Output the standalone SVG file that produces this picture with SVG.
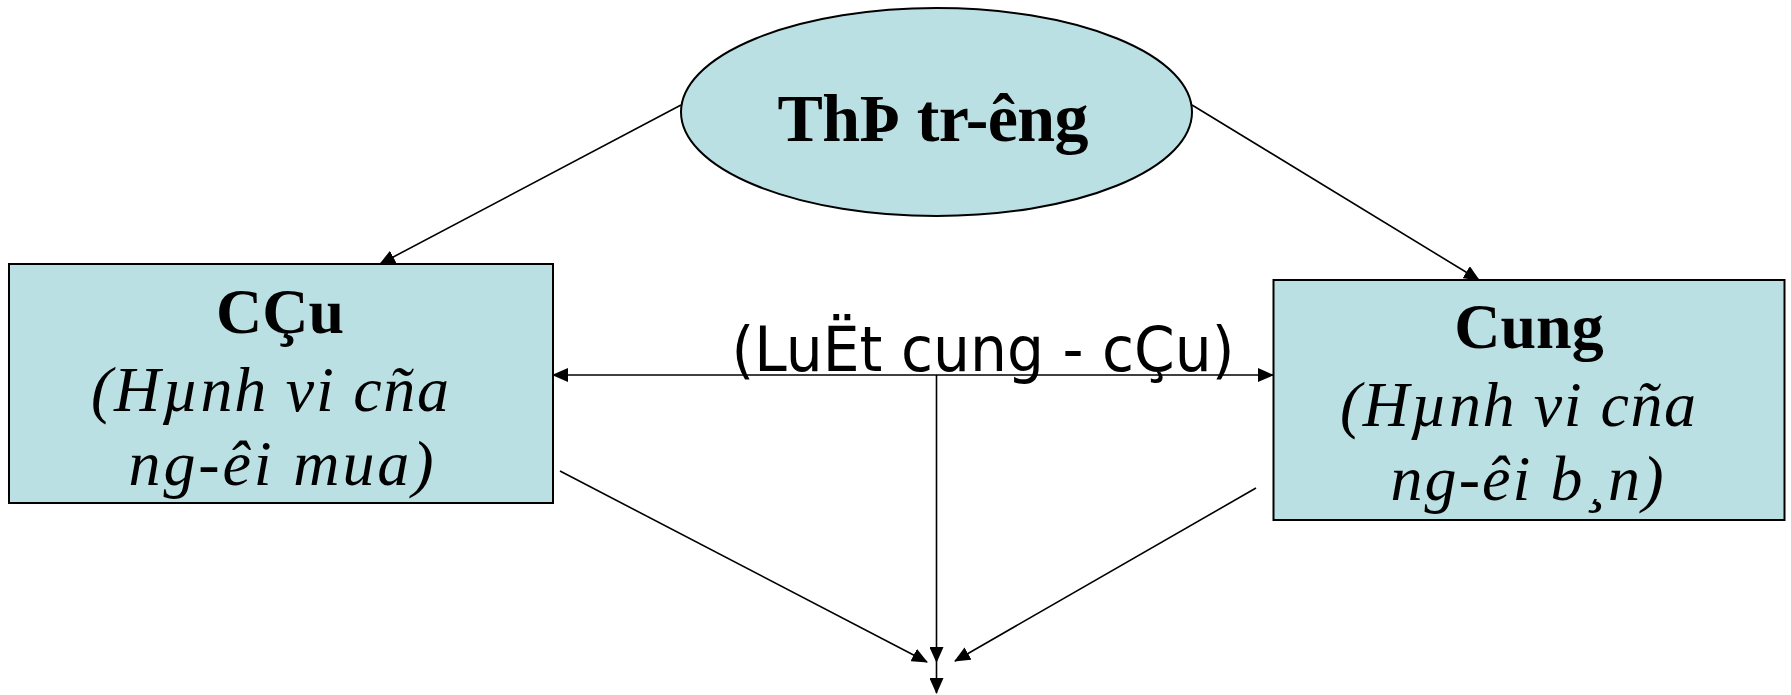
<svg xmlns="http://www.w3.org/2000/svg" width="1791" height="695" viewBox="0 0 1791 695">
<style>
.node{fill:#bbe0e3;stroke:#000;stroke-width:2}
.edge{stroke:#000;stroke-width:1.6;fill:none;marker-end:url(#ah)}
.bold{font-family:"Liberation Serif",serif;font-weight:bold;fill:#000}
.ital{font-family:"Liberation Serif",serif;font-style:italic;fill:#000}
.sans{font-family:"DejaVu Sans",sans-serif;fill:#000}
</style>
<defs>
<marker id="ah" viewBox="0 0 16 14" refX="15" refY="7" markerWidth="16" markerHeight="14" markerUnits="userSpaceOnUse" orient="auto-start-reverse">
<path d="M0,0 L16,7 L0,14 Z" fill="#000"/>
</marker>
</defs>
<rect width="1791" height="695" fill="#fff"/>
<g id="connectors">
<line class="edge" x1="681" y1="105" x2="380" y2="264"/>
<line class="edge" x1="1192" y1="105" x2="1479" y2="280"/>
<line class="edge" x1="553" y1="375" x2="1273" y2="375" style="marker-start:url(#ah)"/>
<line class="edge" x1="936.5" y1="375" x2="936.5" y2="662"/>
<line class="edge" x1="936.5" y1="662" x2="936.5" y2="693"/>
<line class="edge" x1="560" y1="471" x2="927" y2="662"/>
<line class="edge" x1="1256" y1="488" x2="955" y2="661"/>
</g>
<g id="thi-truong">
<ellipse class="node" cx="936.5" cy="112" rx="255.5" ry="104"/>
<text class="bold" x="933" y="141" font-size="68" text-anchor="middle" textLength="311" lengthAdjust="spacing">ThÞ tr-êng</text>
</g>
<g id="cau">
<rect class="node" x="9" y="264" width="544" height="239"/>
<text class="bold" x="280" y="333" font-size="64" text-anchor="middle">CÇu</text>
<text class="ital" x="270" y="411" font-size="64" text-anchor="middle" textLength="358" lengthAdjust="spacing">(Hµnh vi cña</text>
<text class="ital" x="281" y="485" font-size="64" text-anchor="middle" textLength="305" lengthAdjust="spacing">ng-êi mua)</text>
</g>
<g id="cung">
<rect class="node" x="1273.5" y="280" width="511" height="240"/>
<text class="bold" x="1529" y="348" font-size="64" text-anchor="middle">Cung</text>
<text class="ital" x="1518" y="426" font-size="64" text-anchor="middle" textLength="356" lengthAdjust="spacing">(Hµnh vi cña</text>
<text class="ital" x="1527" y="500" font-size="64" text-anchor="middle" textLength="273" lengthAdjust="spacing">ng-êi b¸n)</text>
</g>
<g id="luat">
<text class="sans" x="983" y="371" font-size="62" text-anchor="middle" textLength="503" lengthAdjust="spacingAndGlyphs">(LuËt cung - cÇu)</text>
</g>
</svg>
